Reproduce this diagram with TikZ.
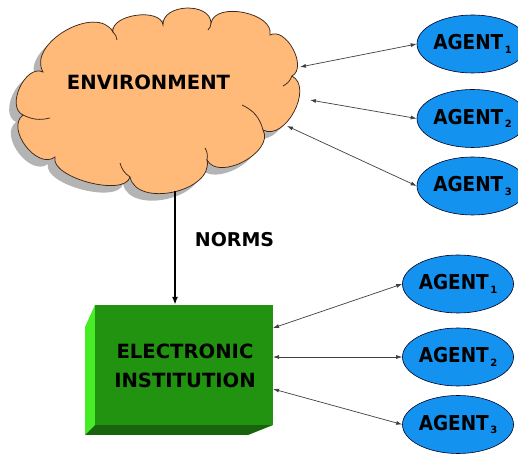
\documentclass[tikz,border=0pt]{standalone}
\usepackage{fontspec}
\setmainfont{DejaVu Sans}
\usetikzlibrary{arrows.meta,shapes.geometric}
\definecolor{cloudfill}{RGB}{255,186,122}
\definecolor{cloudline}{RGB}{60,40,25}
\definecolor{shadowgray}{RGB}{180,180,180}
\definecolor{agentblue}{RGB}{20,146,240}
\definecolor{boxfront}{RGB}{34,146,17}
\definecolor{boxleft}{RGB}{70,236,36}
\definecolor{boxbottom}{RGB}{24,100,12}
\newcommand\agsub[1]{\raisebox{-3.5pt}{\fontsize{10}{10}\selectfont#1}}
\newcommand\agtext[1]{\scalebox{0.9}[1]{AGENT}\hspace{1.5pt}\agsub{#1}}
\tikzset{
  lbl/.style={font=\fontsize{19.6}{29}\selectfont\bfseries, text=black, align=center, inner sep=0pt},
  agent/.style={ellipse, draw=black!85!blue, line width=0.6pt, fill=agentblue, minimum width=89pt, minimum height=58pt, inner sep=0pt, font=\fontsize{20.5}{20}\selectfont\bfseries},
  link/.style={draw=black!75, line width=0.7pt, {Latex[length=6pt,width=4pt]}-{Latex[length=6pt,width=4pt]}},
  normarrow/.style={draw=black, line width=1.8pt, -{Latex[length=8pt,width=6pt]}},
  cloudstroke/.style={draw=cloudline, line width=0.75pt},
}
\def\cloudpath{(113,422) to[bend left=90,looseness=0.9] (163,429) to[bend left=90,looseness=1.13] (211,431) to[bend left=90,looseness=0.95] (270,419) to[bend left=90,looseness=1.0] (292,378) to[bend left=90,looseness=1.04] (263,324) to[bend left=90,looseness=1.0] (207,294) to[bend left=90,looseness=1.04] (130,277) to[bend left=90,looseness=0.7] (55,297) to[bend left=90,looseness=1.08] (23,339) to[bend left=90,looseness=1.05] (43,382) to[bend left=90,looseness=1.05] (113,422) -- cycle}
\begin{document}
\begin{tikzpicture}[x=1pt,y=1pt]
\useasboundingbox (0,0) rectangle (518,454);
\fill[white] (0,0) rectangle (518,454);
% cloud shadow and cloud
\fill[shadowgray, xshift=-7pt, yshift=-7pt] \cloudpath;
\filldraw[fill=cloudfill, cloudstroke] \cloudpath;
% inner strokes of the cloud
\draw[cloudstroke] (23,339) to[bend right=20] (50,336);
\draw[cloudstroke] (130,277) to[bend left=20] (120,291);
\draw[cloudstroke] (207,294) to[bend right=20] (205,306);
\draw[cloudstroke] (263,324) to[bend right=25] (242,349);
\draw[cloudstroke] (292,378) to[bend left=20] (283,368);
\draw[cloudstroke] (211,431) to[bend left=20] (208,424);
\draw[cloudstroke] (113,422) to[bend left=20] (117,414);
\node[lbl] (env) at (148.5,371.5) {ENVIRONMENT};
% cloud connection points
\coordinate (e1) at (300,387);
\coordinate (e2) at (310,354);
\coordinate (e3) at (287,328);
\coordinate (ebot) at (175,263);
% electronic institution box
\fill[boxleft] (95,149) -- (85,127) -- (85,19) -- (95,29) -- cycle;
\fill[boxbottom] (95,29) -- (85,19) -- (248,19) -- (273,29) -- cycle;
\node[rectangle, fill=boxfront, minimum width=178pt, minimum height=120pt, inner sep=0pt] (ei) at (184,89) {};
\node[lbl] (eitext) at (185,88) {ELECTRONIC\\INSTITUTION};
\coordinate (k1) at (273,126);
\coordinate (k2) at (273,97);
\coordinate (k3) at (273,65);
% norms
\draw[normarrow] (ebot) -- (ebot |- ei.north);
\node[lbl, font=\fontsize{19}{23}\selectfont\bfseries] (norms) at (234.5,214) {NORMS};
% agents
\node[agent] (a1) at (472.5,410) {\agtext{1}};
\node[agent] (a2) at (472.5,335.5) {\agtext{2}};
\node[agent] (a3) at (472.5,268) {\agtext{3}};
\node[agent] (b1) at (458,170) {\agtext{1}};
\node[agent] (b2) at (458,97) {\agtext{2}};
\node[agent] (b3) at (458,29.5) {\agtext{3}};
% links
\draw[link] (e1) -- (a1.west);
\draw[link] (e2) -- (a2.west);
\draw[link] (e3) -- (a3.west);
\draw[link] (k1) -- (b1.west);
\draw[link] (k2) -- (b2.west);
\draw[link] (k3) -- (b3.west);
\end{tikzpicture}
\end{document}
